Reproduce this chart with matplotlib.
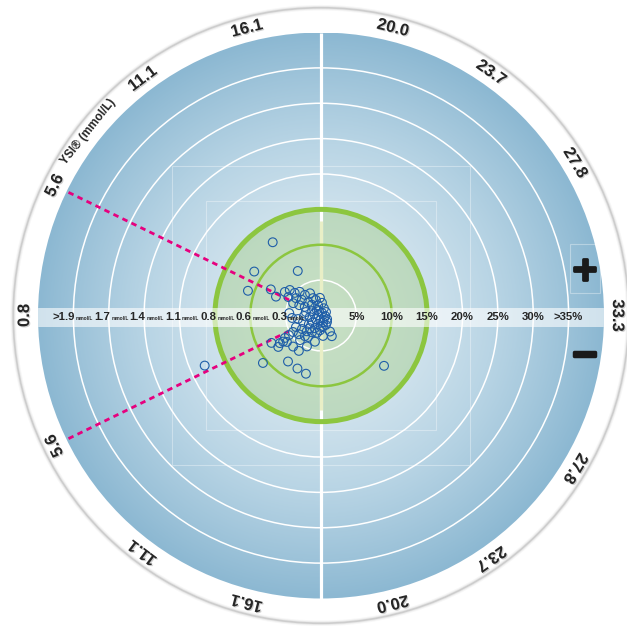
import numpy as np
import matplotlib
matplotlib.use("Agg")
import matplotlib.pyplot as plt
from matplotlib.patches import Circle, Rectangle
from matplotlib.colors import LinearSegmentedColormap
from matplotlib import font_manager
import matplotlib.patheffects as pe

# angular axis: YSI glucose (mmol/L) -> angle in degrees (upper half = positive bias)
ysi_ticks = [0.8, 5.6, 11.1, 16.1, 20.0, 23.7, 27.8, 33.3]
tick_angles = [180, 154, 127, 104.5, 76, 55, 31, 0]
tick_labels = ["0.8", "5.6", "11.1", "16.1", "20.0", "23.7", "27.8", "33.3"]

# radial axis: bias in %
pct_rings = [5, 10, 15, 20, 25, 30, 35]
pct_labels = ["5%", "10%", "15%", "20%", "25%", "30%", ">35%"]
mmol_labels = ["0.3", "0.6", "0.8", "1.1", "1.4", "1.7", ">1.9"]
r_max = 40

# meter vs YSI: glucose (mmol/L), bias (%)
ysi = [11.9, 7.1, 13.2, 4.25, 5.9, 5.0,
       22.7, 22.4, 18.85, 16.3, 12.4, 10.4, 10.1, 12.2, 13.9, 8.0, 7.35, 7.2, 6.2, 7.7,
       8.3, 11.4, 14.0, 16.1, 5.1, 26.5,
       7.05, 8.3, 8.6, 10.1, 10.9, 13.5, 13.9, 6.3, 7.4, 8.3, 9.7, 10.4, 5.2, 5.5, 6.0,
       15.3, 15.8, 17.6, 18.7, 21.4, 11.3, 5.7, 3.2,
       3.0, 2.55, 21.5, 32.1, 27.9, 16.4, 7.4, 2.24, 1.1, 8.3, 15.0, 20.5, 22.4, 18.0,
       13.6, 7.5, 4.5, 2.4, 1.7, 1.6,
       5.36, 7.5, 10.1, 13.0, 16.3, 6.5, 8.5, 10.9, 6.7, 6.8, 10.2, 17.5,
       26.3, 27.1, 14.0, 19.55, 25.0]
bias = [12.4, 11.3, 7.1, 10.9, 8.0, 6.9,
        -2.6, -3.3, -2.9, -3.8, -3.55, -4.56, -5.9, -5.9, -4.8, -6.1, -6.5, -7.0, -8.0, -7.5,
        -10.6, -8.0, -8.2, -8.5, -17.9, -11.4,
        6.1, 5.7, 4.9, 4.5, 3.7, 3.5, 2.7, 5.3, 4.3, 3.5, 2.6, 2.0, 4.3, 3.4, 2.6,
        2.3, 1.5, 2.5, 1.8, 1.1, 1.0, 1.4, 2.2,
        1.0, 0.4, 0.4, -0.6, -1.0, -0.65, -0.9, -1.6, -2.4, -1.5, -1.3, -1.0, -1.5, -1.6,
        -2.0, -2.1, -2.7, -3.3, -4.1, 4.5,
        -3.9, -3.3, -3.0, -2.7, -2.5, -4.6, -4.1, -3.7, -5.3, -6.0, -2.4, -2.1,
        -0.55, 0.86, 0.7, -1.5, -1.25]

names = {f.name for f in font_manager.fontManager.ttflist}
cond = "Liberation Sans Narrow" if "Liberation Sans Narrow" in names else "Liberation Sans"
txtc = "#262626"

px = 7.075  # pixels per % unit
fig = plt.figure(figsize=(6.27, 6.26), dpi=100)
ax = fig.add_axes([0, 0, 1, 1])
ax.set_xlim(-321 / px, (627 - 321) / px)
ax.set_ylim(-(626 - 315.5) / px, 315.5 / px)
ax.axis("off")

# outer white ring with a soft grey rim
for lw, a in [(4, 0.08), (2.5, 0.15), (1.2, 0.35)]:
    ax.add_patch(Circle((0, 0), 43.5, fill=False, ec="#9a9a9a", lw=lw, alpha=a, zorder=0))

# blue radial gradient disc
g = np.linspace(-r_max, r_max, 600)
gx, gy = np.meshgrid(g, g)
rr = np.clip(np.hypot(gx, gy) / r_max, 0, 1) ** 1.4
cmap = LinearSegmentedColormap.from_list("bl", ["#e2edf3", "#b9d5e5", "#8cb8d2"])
disc = Circle((0, 0), r_max, transform=ax.transData)
im = ax.imshow(rr, extent=[-r_max, r_max, -r_max, r_max], origin="lower", cmap=cmap,
               vmin=0, vmax=1, zorder=1)
im.set_clip_path(disc)

# faint squares in the background
for h in [21.1, 16.2]:
    ax.add_patch(Rectangle((-h, -h), 2 * h, 2 * h, fill=False, ec="white", lw=0.8, alpha=0.35, zorder=2))
ax.add_patch(Rectangle((35.2, 3.2), 4.2, 6.9, fill=False, ec="white", lw=0.8, alpha=0.35, zorder=2))

# acceptance zone
ax.add_patch(Circle((0, 0), 15, fc="#a6cf8a", ec="none", alpha=0.45, zorder=3))

# rings
for r in pct_rings:
    if r == 15:
        ax.add_patch(Circle((0, 0), r, fill=False, ec="#8cc63f", lw=3.6, zorder=5))
    elif r == 10:
        ax.add_patch(Circle((0, 0), r, fill=False, ec="#8cc63f", lw=1.8, zorder=5))
    else:
        ax.add_patch(Circle((0, 0), r, fill=False, ec="white", lw=1.1, zorder=4))

# vertical divider
ax.plot([0, 0], [-r_max, r_max], color="white", lw=2.3, zorder=4, solid_capstyle="butt")
ax.plot([0, 0], [-13.3, 13.3], color="#e9efc6", lw=2.3, zorder=4.5, solid_capstyle="butt")

# horizontal label band
band = Rectangle((-r_max, -1.6), 2 * r_max, 2.7, fc="white", ec="none", alpha=0.6, zorder=6)
ax.add_patch(band)
band.set_clip_path(Circle((0, 0), r_max, transform=ax.transData))

yb = -0.25
for r, lab in zip(pct_rings, pct_labels):
    ax.text(r, yb, lab, ha="center", va="center", fontsize=8.2, fontweight="bold",
            family=[cond, "DejaVu Sans"], color=txtc, zorder=9)
for r, lab in zip(pct_rings, mmol_labels):
    ax.text(-r + 0.2, yb, lab, ha="right", va="center", fontsize=8.2, fontweight="bold",
            family=[cond, "DejaVu Sans"], color=txtc, zorder=9)
    ax.text(-r + 0.35, yb - 0.2, "mmol/L", ha="left", va="center", fontsize=3.4,
            fontweight="bold", family=[cond, "DejaVu Sans"], color=txtc, zorder=9)

# 5.6 mmol/L boundary (pink dashed)
a56 = np.deg2rad(np.interp(5.6, ysi_ticks, tick_angles))
for s in [1, -1]:
    rs = np.array([5, r_max])
    ax.plot(rs * np.cos(a56), s * rs * np.sin(a56), color="#e6007e", lw=2,
            ls=(0, (2.0, 1.6)), zorder=7)

# data points
th = np.deg2rad(np.interp(ysi, ysi_ticks, tick_angles)) * np.sign(bias)
rb = np.abs(bias)
ax.scatter(rb * np.cos(th), rb * np.sin(th), s=40, facecolors="none",
           edgecolors="#1f5ea8", linewidths=0.8, zorder=8)

# outer angular labels
shadow = [pe.withSimplePatchShadow(offset=(0.8, -0.8), shadow_rgbFace="#777777", alpha=0.35)]
r_lab = 41.9
for v, a, lab in zip(ysi_ticks, tick_angles, tick_labels):
    sides = [1] if a in (0, 180) else [1, -1]
    for s in sides:
        ang = s * a
        t = np.deg2rad(ang)
        ax.text(r_lab * np.cos(t), r_lab * np.sin(t), lab, rotation=ang - 90,
                rotation_mode="anchor", ha="center", va="center", fontsize=12,
                fontweight="bold", family=[cond, "DejaVu Sans"], color=txtc,
                path_effects=shadow, zorder=9)

t = np.deg2rad(141.6)
ax.text(r_lab * np.cos(t), r_lab * np.sin(t), "YSI® (mmol/L)", rotation=51.6,
        rotation_mode="anchor", ha="center", va="center", fontsize=8.5,
        fontweight="bold", family=[cond, "DejaVu Sans"], color=txtc, zorder=9)

# +/- signs
ax.text(37.3, 6.4, "+", ha="center", va="center", fontsize=24, fontweight="bold",
        color="#1a1a1a", path_effects=[pe.withStroke(linewidth=2, foreground="#1a1a1a")], zorder=9)
ax.text(37.3, -5.6, "−", ha="center", va="center", fontsize=24, fontweight="bold",
        color="#1a1a1a", path_effects=[pe.withStroke(linewidth=2.5, foreground="#1a1a1a")], zorder=9)

fig.savefig("out.png", dpi=100, facecolor="white")
